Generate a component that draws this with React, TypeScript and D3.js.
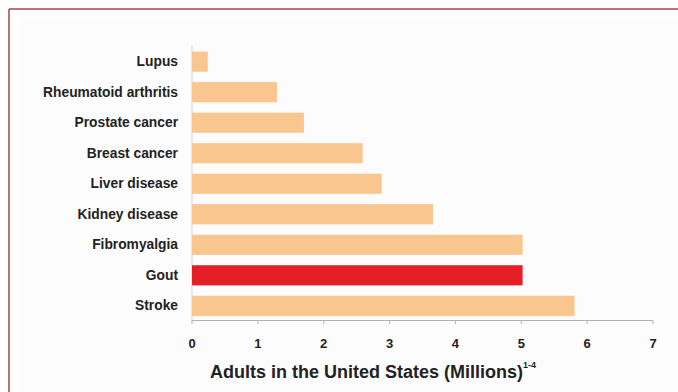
import React from "react";
import * as d3 from "d3";

const categories = [
  "Lupus",
  "Rheumatoid arthritis",
  "Prostate cancer",
  "Breast cancer",
  "Liver disease",
  "Kidney disease",
  "Fibromyalgia",
  "Gout",
  "Stroke",
];
const values = [0.24, 1.29, 1.7, 2.59, 2.88, 3.66, 5.02, 5.02, 5.81];
const highlight = "Gout";
const xTicks = [0, 1, 2, 3, 4, 5, 6, 7];
const axisTitle = "Adults in the United States (Millions)";
const axisTitleSup = "1-4";

const W = 678;
const H = 392;

export default function App() {
  const x = d3.scaleLinear().domain([0, 7]).range([192, 653]);
  const y = d3
    .scaleBand<string>()
    .domain(categories)
    .range([45.5, 322])
    .paddingInner(0.34)
    .paddingOuter(0.2);
  const font = "Arial, 'Liberation Sans', Helvetica, sans-serif";
  return (
    <svg
      width={W}
      height={H}
      style={{ position: "fixed", left: 0, top: 0, background: "#fff" }}
    >
      <rect x={0} y={0} width={W} height={H} fill="#ffffff" />
      <rect x={20} y={20} width={W - 20} height={H - 20} fill="#fdfcfc" />
      <line x1={9} y1={9} x2={W} y2={9} stroke="#a3484a" strokeWidth={1.5} />
      <line x1={9} y1={9} x2={9} y2={H} stroke="#a3484a" strokeWidth={1.5} />
      {/* y axis line */}
      <line
        x1={x(0)}
        x2={x(0)}
        y1={y.range()[0]}
        y2={y.range()[1]}
        stroke="#d8d4d4"
        strokeWidth={1}
      />
      {categories.map((c, i) => (
        <g key={c}>
          <rect
            x={x(0)}
            y={y(c)}
            width={x(values[i]) - x(0)}
            height={y.bandwidth()}
            fill={c === highlight ? "#e61e26" : "#f9c690"}
          />
          <text
            x={178}
            y={(y(c) as number) + y.bandwidth() / 2}
            textAnchor="end"
            dominantBaseline="central"
            fontFamily={font}
            fontWeight="bold"
            fontSize={13.8}
            fill="#222"
          >
            {c}
          </text>
        </g>
      ))}
      {/* x axis */}
      <line x1={x(0)} x2={x(7)} y1={320.5} y2={320.5} stroke="#b9aeae" strokeWidth={1} />
      {xTicks.map((t) => (
        <g key={t}>
          <line x1={x(t)} x2={x(t)} y1={320.5} y2={324} stroke="#b9aeae" strokeWidth={1} />
          <text
            x={x(t)}
            y={343}
            textAnchor="middle"
            dominantBaseline="central"
            fontFamily={font}
            fontWeight="bold"
            fontSize={13}
            fill="#222"
          >
            {t}
          </text>
        </g>
      ))}
      <text
        x={210}
        y={372}
        dominantBaseline="central"
        fontFamily={font}
        fontWeight="bold"
        fontSize={18}
        fill="#222"
      >
        {axisTitle}
        <tspan fontSize={9} dy={-7}>
          {axisTitleSup}
        </tspan>
      </text>
    </svg>
  );
}
